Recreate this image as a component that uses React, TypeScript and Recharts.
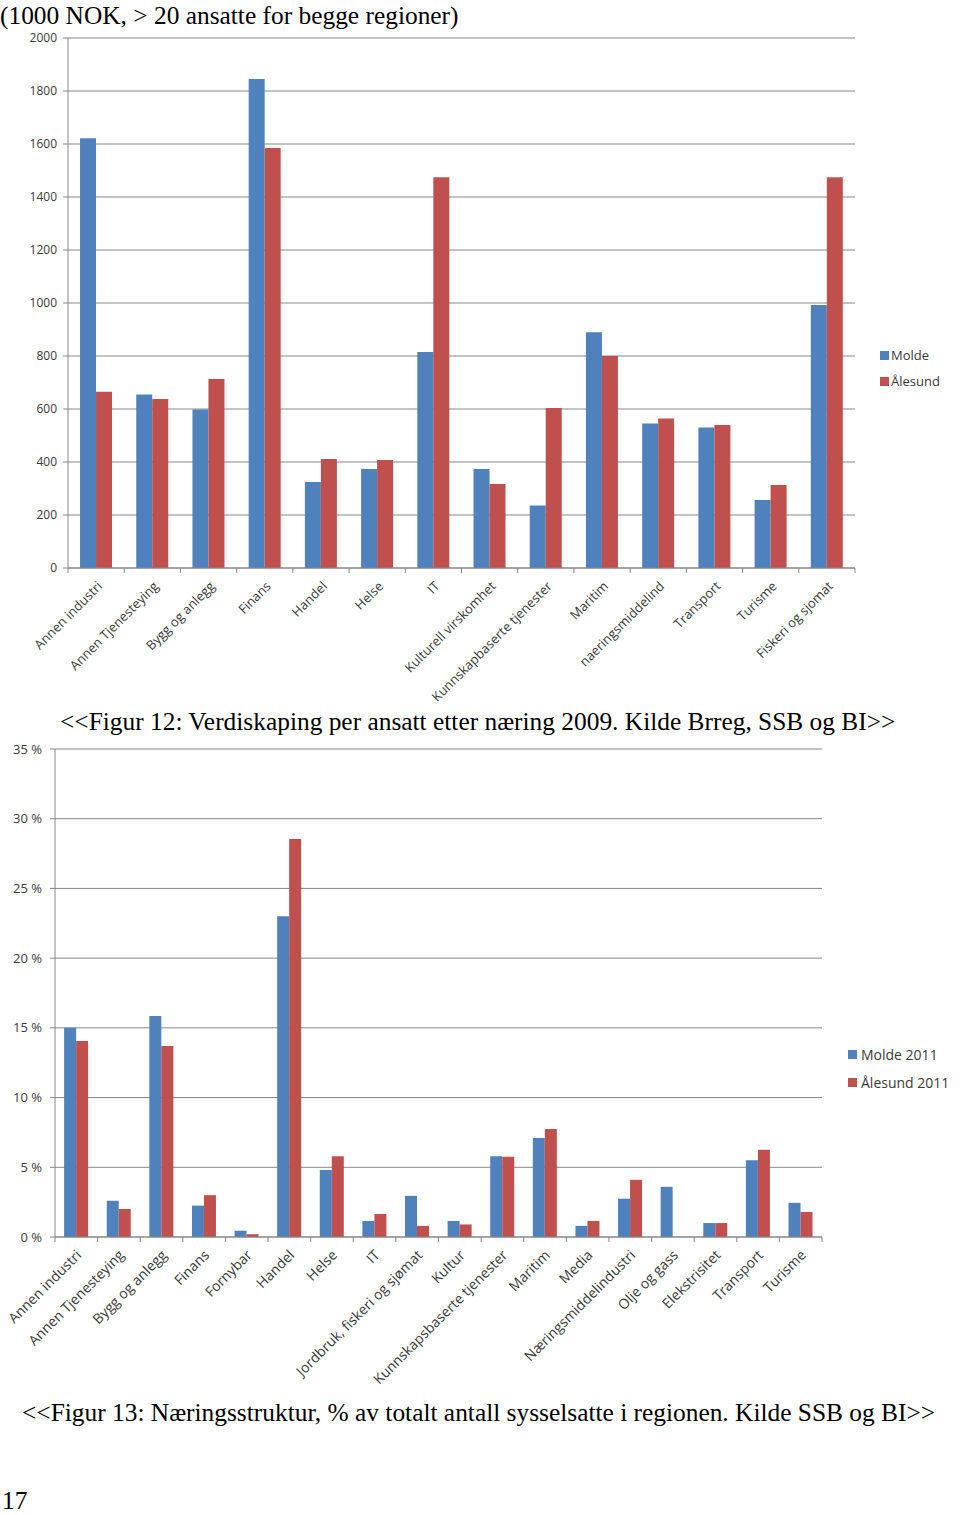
import React from 'react';
import { BarChart, Bar, XAxis, YAxis, CartesianGrid, Legend } from 'recharts';

const BLUE = '#4F81BD';
const RED = '#C0504D';
const GRID = '#878787';
const TEXT = '#3a3a3a';
const CHART_FONT = '"Open Sans", "Noto Sans", sans-serif';
const SERIF = '"Liberation Serif", "Times New Roman", serif';

// Figur 12: verdiskaping per ansatt (1000 NOK)
const fig12Categories = [
    'Annen industri', 'Annen Tjenesteying', 'Bygg og anlegg', 'Finans', 'Handel', 'Helse', 'IT',
    'Kulturell virskomhet', 'Kunnskapbaserte tjenester', 'Maritim', 'naeringsmiddelind',
    'Transport', 'Turisme', 'Fiskeri og sjomat',
];
const fig12Molde = [1622, 655, 598, 1845, 325, 374, 815, 374, 236, 890, 545, 530, 257, 992];
const fig12Alesund = [665, 638, 713, 1585, 411, 408, 1475, 317, 604, 800, 564, 540, 313, 1475];
const fig12Ticks = [0, 200, 400, 600, 800, 1000, 1200, 1400, 1600, 1800, 2000];

// Figur 13: næringsstruktur, % av sysselsatte
const fig13Categories = [
    'Annen industri', 'Annen Tjenesteying', 'Bygg og anlegg', 'Finans', 'Fornybar', 'Handel', 'Helse',
    'IT', 'Jordbruk, fiskeri og sjømat', 'Kultur', 'Kunnskapsbaserte tjenester', 'Maritim', 'Media',
    'Næringsmiddelindustri', 'Olje og gass', 'Elekstrisitet', 'Transport', 'Turisme',
];
const fig13Molde = [15.0, 2.6, 15.85, 2.25, 0.45, 23.0, 4.8, 1.15, 2.95, 1.15, 5.8, 7.1, 0.8, 2.75, 3.6, 1.0, 5.5, 2.45];
const fig13Alesund = [14.05, 2.0, 13.7, 3.0, 0.2, 28.55, 5.8, 1.65, 0.8, 0.9, 5.75, 7.75, 1.15, 4.1, 0, 1.0, 6.25, 1.8];
const fig13Ticks = [0, 5, 10, 15, 20, 25, 30, 35];

const fig12Data = fig12Categories.map((name, i) => ({ name, Molde: fig12Molde[i], Alesund: fig12Alesund[i] }));
const fig13Data = fig13Categories.map((name, i) => ({ name, Molde: fig13Molde[i], Alesund: fig13Alesund[i] }));

const categoryTick = (band: number, count: number, fontSize: number, dx: number, dy: number) => (props: any) => {
    const { x, y, payload, index } = props;
    const tx = x + dx;
    const ty = y + dy;
    return (
        <g>
            <line x1={x - band / 2} y1={y} x2={x - band / 2} y2={y + 5} stroke={GRID} />
            {index === count - 1 && <line x1={x + band / 2} y1={y} x2={x + band / 2} y2={y + 5} stroke={GRID} />}
            <text x={tx} y={ty} transform={`rotate(-45, ${tx}, ${ty})`} textAnchor="end"
                fontSize={fontSize} fontFamily={CHART_FONT} fill={TEXT}>
                {payload.value}
            </text>
        </g>
    );
};

const legendContent = (labels: string[], fontSize: number, rowHeight: number, gap: number) => () => (
    <div style={{ fontFamily: CHART_FONT, fontSize, color: TEXT }}>
        {labels.map((label, i) => (
            <div key={label} style={{ display: 'flex', alignItems: 'center', height: rowHeight, whiteSpace: 'nowrap' }}>
                <span style={{ width: 9, height: 9, background: i === 0 ? BLUE : RED, marginRight: gap, display: 'inline-block' }} />
                {label}
            </div>
        ))}
    </div>
);

function Caption(props: { left: number; baseline: number; children: React.ReactNode }) {
    return (
        <div style={{
            position: 'absolute', left: props.left, top: props.baseline - 18.5, fontFamily: SERIF,
            fontSize: 25.4, lineHeight: '20px', whiteSpace: 'nowrap', color: '#000',
        }}>
            {props.children}
        </div>
    );
}

export default function App() {
    return (
        <div style={{ position: 'absolute', left: 0, top: 0, width: 960, height: 1515, background: '#fff', overflow: 'hidden' }}>
            <Caption left={0} baseline={23}>(1000 NOK, &gt; 20 ansatte for begge regioner)</Caption>

            <div style={{ position: 'absolute', left: 0, top: 25 }}>
                <BarChart width={960} height={680} data={fig12Data}
                    margin={{ top: 13, right: 105, bottom: 0, left: 0 }} barCategoryGap="21.4%" barGap={0}>
                    <CartesianGrid stroke={GRID} vertical={false} />
                    <XAxis dataKey="name" interval={0} height={137} stroke={GRID} tickLine={false}
                        tickSize={0} tickMargin={0} tick={categoryTick(787 / 14, 14, 13, 7, 19)} />
                    <YAxis domain={[0, 2000]} ticks={fig12Ticks} width={68} stroke={GRID} tickSize={5} tickMargin={6}
                        tick={{ fill: TEXT, fontSize: 12, fontFamily: CHART_FONT }} />
                    <Legend layout="vertical" align="center" verticalAlign="middle"
                        wrapperStyle={{ left: 880, top: 317, width: 80 }}
                        content={legendContent(['Molde', 'Ålesund'], 13, 26, 2)} />
                    <Bar dataKey="Molde" fill={BLUE} isAnimationActive={false} />
                    <Bar dataKey="Alesund" name="Ålesund" fill={RED} isAnimationActive={false} />
                </BarChart>
            </div>

            <Caption left={60} baseline={729}>&lt;&lt;Figur 12: Verdiskaping per ansatt etter næring 2009. Kilde Brreg, SSB og BI&gt;&gt;</Caption>

            <div style={{ position: 'absolute', left: 0, top: 735 }}>
                <BarChart width={960} height={665} data={fig13Data}
                    margin={{ top: 14, right: 138, bottom: 0, left: 0 }} barCategoryGap="21.4%" barGap={0}>
                    <CartesianGrid stroke={GRID} vertical={false} />
                    <XAxis dataKey="name" interval={0} height={163} stroke={GRID} tickLine={false}
                        tickSize={0} tickMargin={0} tick={categoryTick(767 / 18, 18, 14, 6, 19)} />
                    <YAxis domain={[0, 35]} ticks={fig13Ticks} width={55} stroke={GRID} tickSize={5} tickMargin={8}
                        tickFormatter={(v: number) => `${v} %`}
                        tick={{ fill: TEXT, fontSize: 13, fontFamily: CHART_FONT }} />
                    <Legend layout="vertical" align="center" verticalAlign="middle"
                        wrapperStyle={{ left: 848, top: 305, width: 112 }}
                        content={legendContent(['Molde 2011', 'Ålesund 2011'], 14, 28, 4)} />
                    <Bar dataKey="Molde" name="Molde 2011" fill={BLUE} isAnimationActive={false} />
                    <Bar dataKey="Alesund" name="Ålesund 2011" fill={RED} isAnimationActive={false} />
                </BarChart>
            </div>

            <Caption left={22} baseline={1420}>&lt;&lt;Figur 13: Næringsstruktur, % av totalt antall sysselsatte i regionen. Kilde SSB og BI&gt;&gt;</Caption>
            <Caption left={2} baseline={1508}>17</Caption>
        </div>
    );
}
